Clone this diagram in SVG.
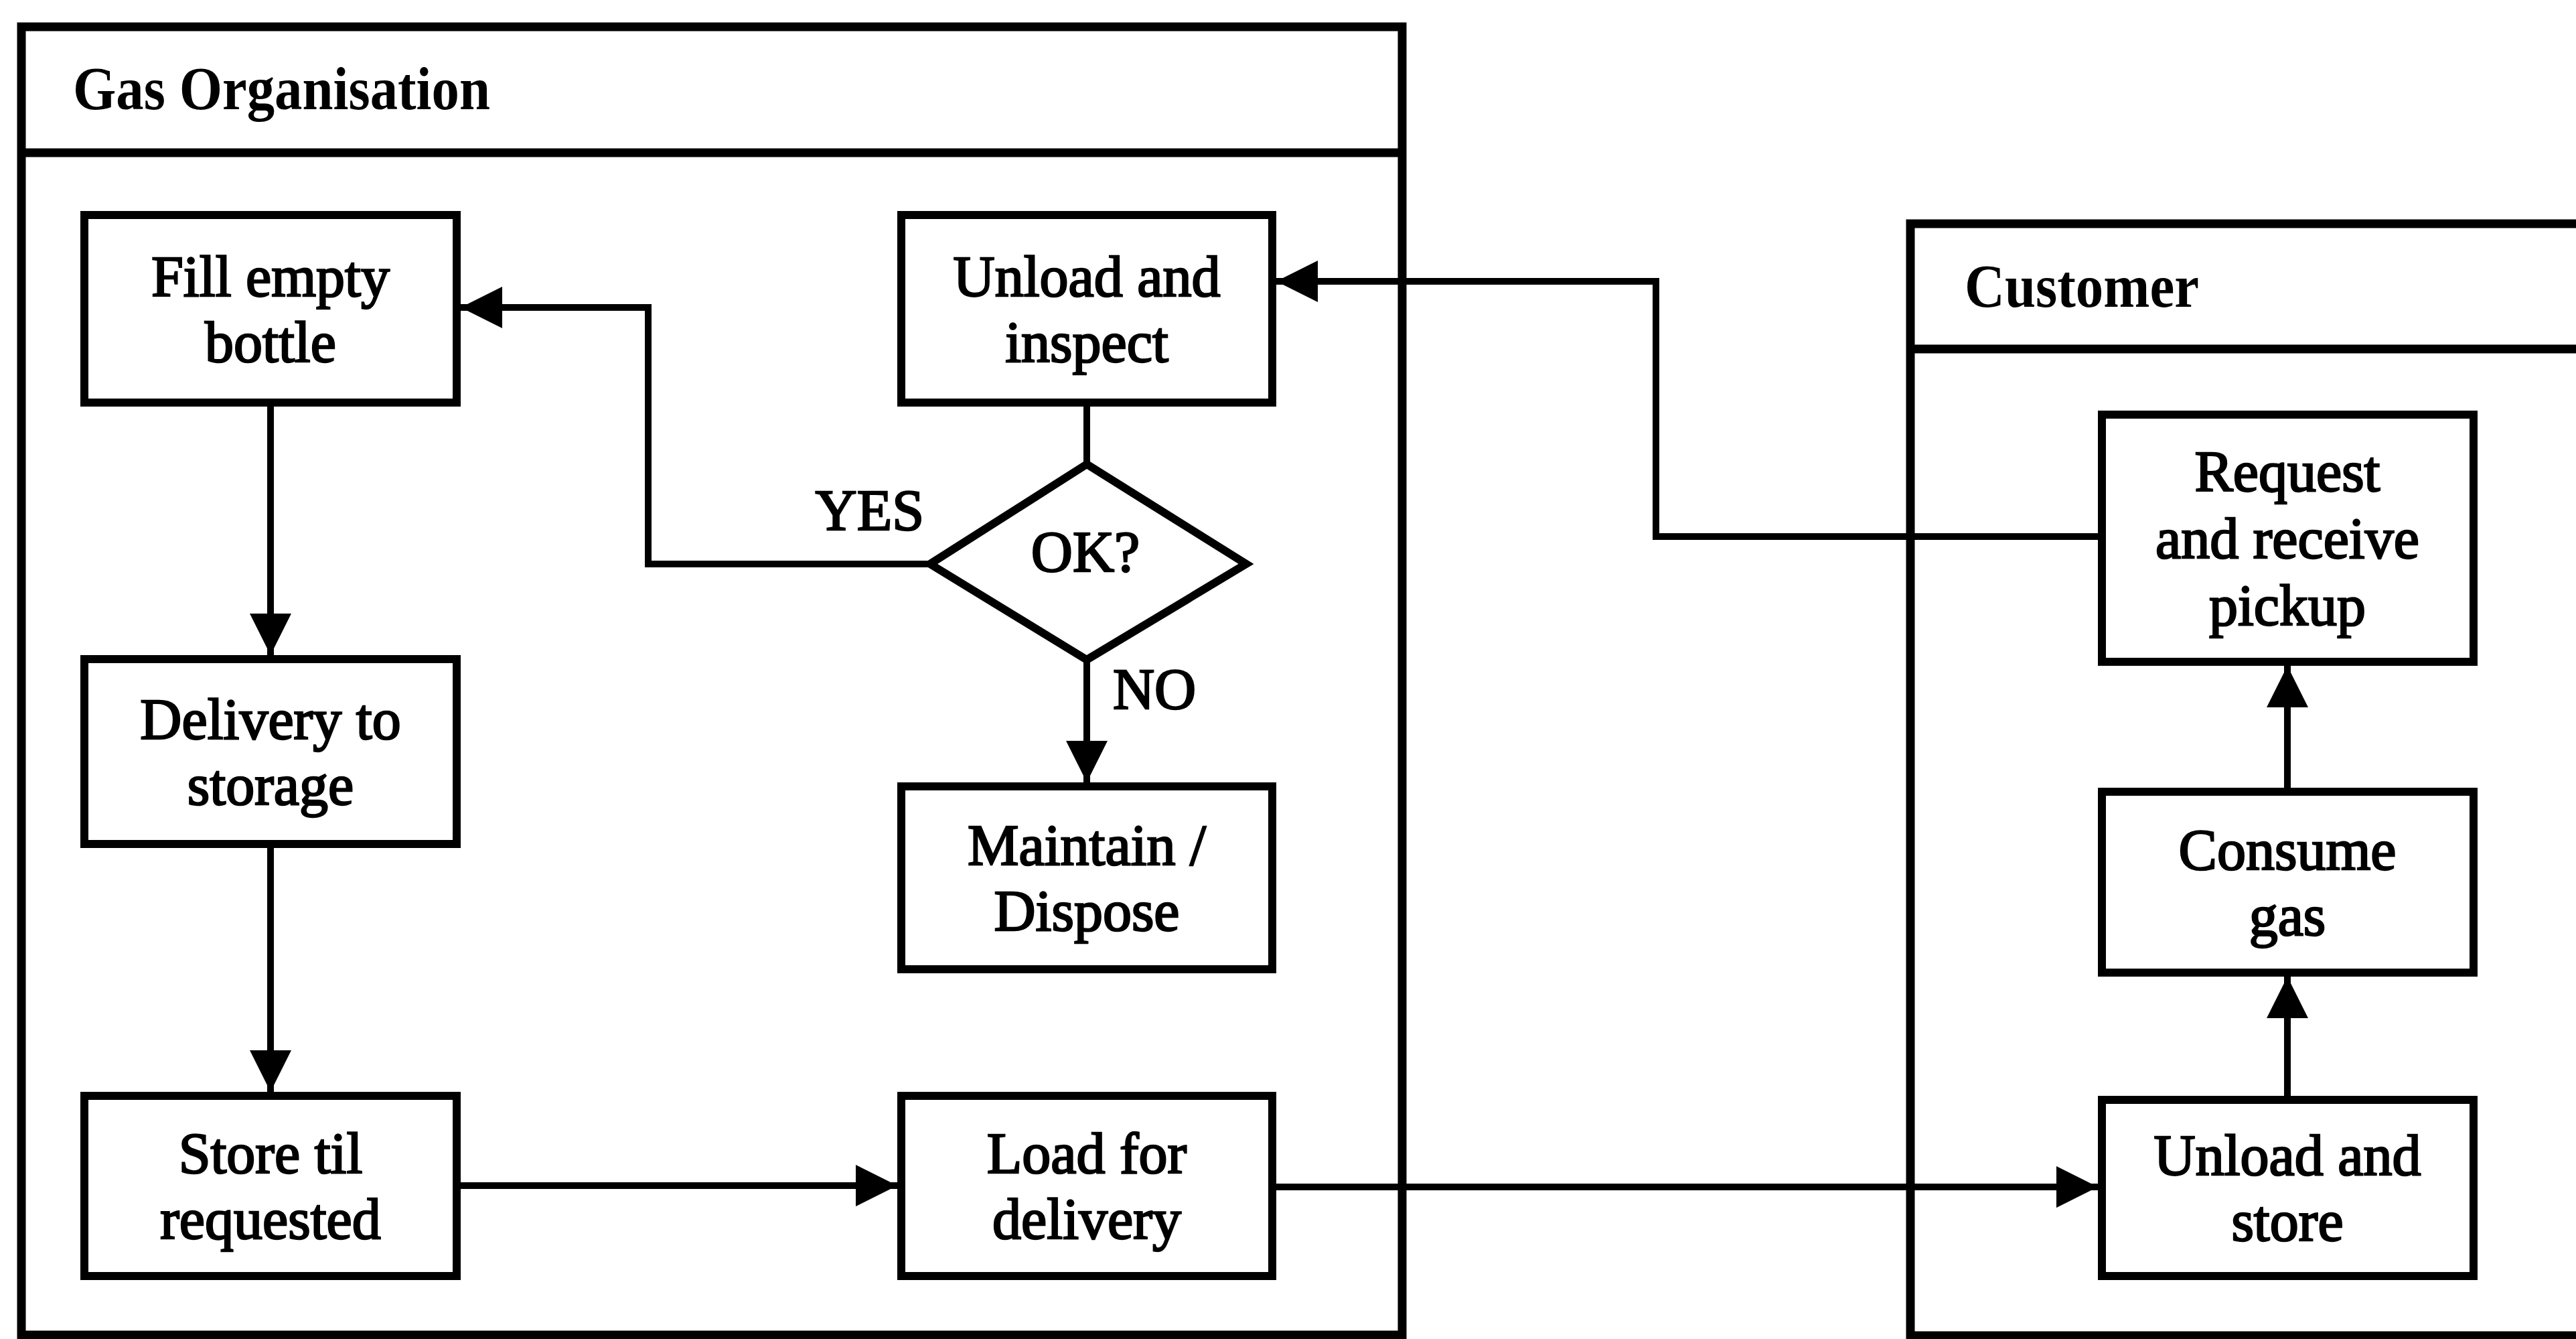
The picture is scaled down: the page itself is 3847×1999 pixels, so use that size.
<svg xmlns="http://www.w3.org/2000/svg" width="3847" height="1999" viewBox="0 0 3847 1999">
  <style>
    .lane { fill: none; stroke: #000; stroke-width: 13; }
    .box { fill: #fff; stroke: #000; stroke-width: 12; }
    .edge { fill: none; stroke: #000; stroke-width: 10; }
    .lbl { font-family: "Liberation Serif", "Times New Roman", serif; font-size: 86px; fill: #000; stroke: #000; stroke-width: 2.5; }
    .node-text { text-anchor: middle; }
    .hdr { font-family: "Liberation Serif", "Times New Roman", serif; font-size: 90px; font-weight: bold; fill: #000; }
  </style>
  <defs>
    <marker id="arrow" markerUnits="userSpaceOnUse" markerWidth="62" markerHeight="62" refX="62" refY="31" orient="auto">
      <path d="M0,0 L62,31 L0,62 Z" fill="#000"/>
    </marker>
  </defs>
  <rect width="3847" height="1999" fill="#fff"/>

  <!-- swimlanes -->
  <g id="lane-gas">
    <rect class="lane" x="32" y="40" width="2062" height="1953"/>
    <line class="lane" x1="32" y1="228" x2="2094" y2="228"/>
    <text class="hdr" x="109" y="163" textLength="623" lengthAdjust="spacingAndGlyphs">Gas Organisation</text>
  </g>
  <g id="lane-customer">
    <path class="lane" d="M3870,334 H2853 V1994 H3870"/>
    <line class="lane" x1="2853" y1="521" x2="3870" y2="521"/>
    <text class="hdr" x="2934" y="458" textLength="350" lengthAdjust="spacingAndGlyphs">Customer</text>
  </g>

  <!-- connectors -->
  <g id="connectors">
    <line class="edge" x1="404" y1="607" x2="404" y2="978" marker-end="url(#arrow)"/>
    <line class="edge" x1="404" y1="1266" x2="404" y2="1630" marker-end="url(#arrow)"/>
    <line class="edge" x1="688" y1="1770" x2="1340" y2="1770" marker-end="url(#arrow)"/>
    <line class="edge" x1="1906" y1="1772" x2="3133" y2="1772" marker-end="url(#arrow)"/>
    <line class="edge" x1="3416" y1="1636" x2="3416" y2="1458" marker-end="url(#arrow)"/>
    <line class="edge" x1="3416" y1="1176" x2="3416" y2="994" marker-end="url(#arrow)"/>
    <path class="edge" d="M3133,801 H2473 V420 H1906" marker-end="url(#arrow)"/>
    <line class="edge" x1="1623" y1="607" x2="1623" y2="693"/>
    <line class="edge" x1="1623" y1="985" x2="1623" y2="1168" marker-end="url(#arrow)"/>
    <path class="edge" d="M1389,842 H968 V459 H688" marker-end="url(#arrow)"/>
    <text class="lbl" x="1380" y="791" text-anchor="end">YES</text>
    <text class="lbl" x="1662" y="1058">NO</text>
  </g>

  <!-- Gas Organisation steps -->
  <g id="fill-empty-bottle">
    <rect class="box" x="126" y="321" width="556" height="280"/>
    <text class="lbl node-text" x="404" y="442">Fill empty</text>
    <text class="lbl node-text" x="404" y="540">bottle</text>
  </g>
  <g id="delivery-to-storage">
    <rect class="box" x="126" y="984" width="556" height="276"/>
    <text class="lbl node-text" x="404" y="1103">Delivery to</text>
    <text class="lbl node-text" x="404" y="1201">storage</text>
  </g>
  <g id="store-til-requested">
    <rect class="box" x="126" y="1636" width="556" height="269"/>
    <text class="lbl node-text" x="404" y="1751">Store til</text>
    <text class="lbl node-text" x="404" y="1849">requested</text>
  </g>
  <g id="unload-and-inspect">
    <rect class="box" x="1346" y="321" width="554" height="280"/>
    <text class="lbl node-text" x="1623" y="442">Unload and</text>
    <text class="lbl node-text" x="1623" y="540">inspect</text>
  </g>
  <g id="ok-decision">
    <polygon class="box" points="1623,693 1861,842 1623,985 1389,842"/>
    <text class="lbl node-text" x="1621" y="853">OK?</text>
  </g>
  <g id="maintain-dispose">
    <rect class="box" x="1346" y="1174" width="554" height="273"/>
    <text class="lbl node-text" x="1623" y="1291">Maintain /</text>
    <text class="lbl node-text" x="1623" y="1389">Dispose</text>
  </g>
  <g id="load-for-delivery">
    <rect class="box" x="1346" y="1636" width="554" height="269"/>
    <text class="lbl node-text" x="1623" y="1751">Load for</text>
    <text class="lbl node-text" x="1623" y="1849">delivery</text>
  </g>

  <!-- Customer steps -->
  <g id="request-and-receive-pickup">
    <rect class="box" x="3139" y="619" width="555" height="369"/>
    <text class="lbl node-text" x="3416" y="733">Request</text>
    <text class="lbl node-text" x="3416" y="833">and receive</text>
    <text class="lbl node-text" x="3416" y="933">pickup</text>
  </g>
  <g id="consume-gas">
    <rect class="box" x="3139" y="1182" width="555" height="270"/>
    <text class="lbl node-text" x="3416" y="1298">Consume</text>
    <text class="lbl node-text" x="3416" y="1396">gas</text>
  </g>
  <g id="unload-and-store">
    <rect class="box" x="3139" y="1642" width="555" height="263"/>
    <text class="lbl node-text" x="3416" y="1754">Unload and</text>
    <text class="lbl node-text" x="3416" y="1852">store</text>
  </g>
</svg>
